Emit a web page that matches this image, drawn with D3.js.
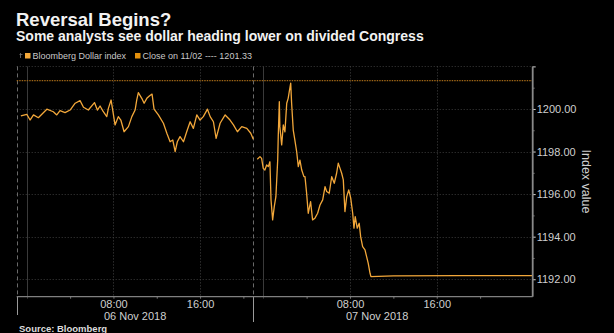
<!DOCTYPE html>
<html>
<head>
<meta charset="utf-8">
<script src="https://cdn.jsdelivr.net/npm/d3@7"></script>
<style>
  html, body { margin: 0; padding: 0; background: #000; }
  svg { display: block; }
  text { font-family: "Liberation Sans", Arial, sans-serif; }
</style>
</head>
<body>
<svg id="chart" width="614" height="333"></svg>
<script>
// ---------------- DATA ----------------
const titleText = "Reversal Begins?";
const subtitleText = "Some analysts see dollar heading lower on divided Congress";
const sourceText = "Source: Bloomberg";
const seriesName = "Bloomberg Dollar index";
const closeLabel = "Close on 11/02 ---- 1201.33";
const closeValue = 1201.33;

// Session 1 (06 Nov 2018)
const session1Times = [
  "2018-11-05 23:27","2018-11-06 00:00","2018-11-06 00:18","2018-11-06 00:37","2018-11-06 01:04",
  "2018-11-06 01:51","2018-11-06 02:27","2018-11-06 02:46","2018-11-06 03:04","2018-11-06 03:32",
  "2018-11-06 04:00","2018-11-06 04:28","2018-11-06 04:55","2018-11-06 05:14","2018-11-06 05:41",
  "2018-11-06 06:15","2018-11-06 06:31","2018-11-06 06:46","2018-11-06 07:04","2018-11-06 07:23",
  "2018-11-06 07:32","2018-11-06 07:47","2018-11-06 07:56","2018-11-06 08:09","2018-11-06 08:27",
  "2018-11-06 08:41","2018-11-06 08:59","2018-11-06 09:23","2018-11-06 09:42","2018-11-06 10:00",
  "2018-11-06 10:09","2018-11-06 10:18","2018-11-06 10:37","2018-11-06 10:50","2018-11-06 11:05",
  "2018-11-06 11:19","2018-11-06 11:34","2018-11-06 11:45","2018-11-06 12:09","2018-11-06 12:37",
  "2018-11-06 12:56","2018-11-06 13:14","2018-11-06 13:29","2018-11-06 13:42","2018-11-06 13:54",
  "2018-11-06 14:09","2018-11-06 14:28","2018-11-06 14:46","2018-11-06 15:05","2018-11-06 15:23",
  "2018-11-06 15:42","2018-11-06 16:00","2018-11-06 16:18","2018-11-06 16:41","2018-11-06 16:56",
  "2018-11-06 17:14","2018-11-06 17:29","2018-11-06 17:51","2018-11-06 18:19","2018-11-06 18:46",
  "2018-11-06 19:05","2018-11-06 19:27","2018-11-06 19:51","2018-11-06 20:19","2018-11-06 20:41",
  "2018-11-06 20:55"
];
const session1Values = [
  1199.67,1199.75,1199.48,1199.72,1199.59,
  1199.99,1199.87,1199.72,1199.92,1199.83,
  1199.95,1200.27,1200.39,1200.08,1199.95,
  1200.30,1199.95,1200.14,1199.87,1199.64,
  1200.03,1200.42,1199.95,1199.25,1199.64,
  1199.48,1198.93,1199.17,1199.64,1199.95,
  1200.42,1200.77,1200.50,1200.27,1200.50,
  1200.61,1200.70,1199.99,1199.72,1199.33,
  1198.86,1198.46,1198.54,1198.00,1198.46,
  1198.70,1198.46,1198.93,1199.40,1199.09,
  1199.72,1199.48,1199.64,1199.99,1199.64,
  1199.40,1198.62,1199.33,1199.72,1199.48,
  1199.25,1198.93,1199.17,1199.09,1198.86,
  1198.58
];

// Session 2 (07 Nov 2018)
const session2Times = [
  "2018-11-06 23:27","2018-11-06 23:42","2018-11-06 23:51","2018-11-07 00:00","2018-11-07 00:09",
  "2018-11-07 00:19","2018-11-07 00:28","2018-11-07 00:37","2018-11-07 00:43","2018-11-07 00:52",
  "2018-11-07 01:01","2018-11-07 01:10","2018-11-07 01:20","2018-11-07 01:23","2018-11-07 01:29",
  "2018-11-07 01:32","2018-11-07 01:42","2018-11-07 01:51","2018-11-07 02:00","2018-11-07 02:10",
  "2018-11-07 02:18","2018-11-07 02:24","2018-11-07 02:32","2018-11-07 02:37","2018-11-07 02:46",
  "2018-11-07 02:55","2018-11-07 03:05","2018-11-07 03:14","2018-11-07 03:23","2018-11-07 03:33",
  "2018-11-07 03:45","2018-11-07 03:51","2018-11-07 04:00","2018-11-07 04:09","2018-11-07 04:22",
  "2018-11-07 04:33","2018-11-07 04:46","2018-11-07 05:01","2018-11-07 05:14","2018-11-07 05:29",
  "2018-11-07 05:42","2018-11-07 05:51","2018-11-07 06:05","2018-11-07 06:19","2018-11-07 06:33",
  "2018-11-07 06:46","2018-11-07 06:55","2018-11-07 07:05","2018-11-07 07:14","2018-11-07 07:23",
  "2018-11-07 07:32","2018-11-07 07:42","2018-11-07 07:53","2018-11-07 08:04","2018-11-07 08:15",
  "2018-11-07 08:22","2018-11-07 08:29","2018-11-07 08:40","2018-11-07 08:51","2018-11-07 08:59",
  "2018-11-07 09:10","2018-11-07 09:23","2018-11-07 09:32","2018-11-07 09:41","2018-11-07 09:51",
  "2018-11-07 09:56","2018-11-07 12:00","2018-11-07 18:00","2018-11-08 00:50"
];
const session2Values = [
  1197.64,1197.76,1197.68,1197.21,1197.13,
  1197.37,1197.29,1197.52,1195.73,1194.79,
  1195.41,1195.88,1197.60,1198.70,1200.34,
  1199.17,1198.31,1199.25,1198.93,1200.27,
  1200.50,1200.81,1201.21,1200.27,1199.01,
  1198.54,1197.99,1197.29,1197.60,1197.13,
  1196.82,1196.82,1196.04,1195.10,1195.65,
  1194.79,1194.87,1195.10,1195.49,1195.73,
  1196.35,1196.12,1196.04,1196.82,1196.51,
  1196.98,1197.45,1197.21,1196.98,1196.67,
  1195.18,1195.88,1196.20,1195.81,1195.10,
  1194.40,1194.94,1194.40,1194.63,1194.00,
  1193.53,1193.38,1193.06,1192.75,1192.28,
  1192.12,1192.16,1192.17,1192.17
];

const yMajorTicks = [1192, 1194, 1196, 1198, 1200, 1202];
const yMinorTicks = [1193, 1195, 1197, 1199, 1201];
const xTickTimes = [
  "2018-11-06 04:00","2018-11-06 08:00","2018-11-06 12:00","2018-11-06 16:00","2018-11-06 20:00",
  "2018-11-07 04:00","2018-11-07 08:00","2018-11-07 12:00","2018-11-07 16:00","2018-11-07 20:00"
];
const xLabelTimes = ["2018-11-06 08:00","2018-11-06 16:00","2018-11-07 08:00","2018-11-07 16:00"];
const midnightTimes = ["2018-11-06 00:00","2018-11-07 00:00"];
const sessionBreakTimes = ["2018-11-05 23:04","2018-11-06 20:55"];
const dateLabels = ["06 Nov 2018","07 Nov 2018"];
const dateLabelAnchors = ["2018-11-06 10:00","2018-11-07 10:30"];
// x domain: two trading sessions, the gap between them is collapsed
const xDomainTimes = ["2018-11-05 23:04","2018-11-06 20:55","2018-11-06 23:05","2018-11-08 00:51"];
const yDomain = [1191.18, 1202];

// ---------------- DRAW ----------------
(function draw() {
const parse = d3.timeParse("%Y-%m-%d %H:%M");
const fmtHM = d3.timeFormat("%H:%M");
const fmtKey = d3.timeFormat("%Y-%m-%d %H:%M");

const pLeft = 16.7, pRight = 532.7, pTop = 66.4, pBottom = 296.7, breakX = 253.3;

const x = d3.scaleTime()
  .domain(xDomainTimes.map(parse))
  .range([pLeft, breakX, breakX, pRight]);
const y = d3.scaleLinear().domain(yDomain).range([pBottom, pTop]);

const svg = d3.select("#chart");
svg.append("rect").attr("width", 614).attr("height", 333).attr("fill", "#000");

// Titles
svg.append("text").attr("x", 16).attr("y", 26)
  .attr("fill", "#f2f2f2").attr("font-weight", "bold").attr("font-size", "18.5px")
  .text(titleText);
svg.append("text").attr("x", 16).attr("y", 41)
  .attr("fill", "#f2f2f2").attr("font-weight", "bold").attr("font-size", "14px")
  .text(subtitleText);

// Legend
const lg = svg.append("g");
lg.append("path").attr("d", "M20.5,53 L20.5,58 M19.5,54.5 L22.5,54.5")
  .attr("stroke", "#777").attr("stroke-width", 0.8).attr("fill", "none");
lg.append("rect").attr("x", 25).attr("y", 53).attr("width", 5.5).attr("height", 5.5).attr("fill", "#f5a93a");
lg.append("text").attr("x", 32.5).attr("y", 58.6).attr("fill", "#c8c8c8").attr("font-size", "9px").text(seriesName);
lg.append("rect").attr("x", 135).attr("y", 53).attr("width", 5.5).attr("height", 5.5).attr("fill", "#e3900c");
lg.append("text").attr("x", 142.5).attr("y", 58.6).attr("fill", "#c8c8c8").attr("font-size", "9px").text(closeLabel);

// Horizontal grid
svg.append("g").selectAll("line").data(yMajorTicks).join("line")
  .attr("x1", pLeft).attr("x2", pRight)
  .attr("y1", d => Math.round(y(d)) + 0.5).attr("y2", d => Math.round(y(d)) + 0.5)
  .attr("stroke", "#3c3c3c").attr("stroke-dasharray", "1,2");

// Vertical dotted grid at labelled hours
svg.append("g").selectAll("line").data(xLabelTimes.map(parse)).join("line")
  .attr("x1", d => Math.round(x(d)) + 0.5).attr("x2", d => Math.round(x(d)) + 0.5)
  .attr("y1", pTop).attr("y2", pBottom)
  .attr("stroke", "#444").attr("stroke-dasharray", "1,2");

// Midnight solid lines
svg.append("g").selectAll("line").data(midnightTimes.map(parse)).join("line")
  .attr("x1", d => Math.round(x(d)) + 0.5).attr("x2", d => Math.round(x(d)) + 0.5)
  .attr("y1", pTop).attr("y2", pBottom + 2)
  .attr("stroke", "#3a3a3a");

// Session breaks: dashed above axis, solid below
const breaks = sessionBreakTimes.map(parse);
svg.append("g").selectAll("line").data(breaks).join("line")
  .attr("x1", d => Math.round(x(d)) + 0.5).attr("x2", d => Math.round(x(d)) + 0.5)
  .attr("y1", pTop).attr("y2", pBottom)
  .attr("stroke", "#6a6a6a").attr("stroke-dasharray", "4,3");
svg.append("g").selectAll("line").data(breaks).join("line")
  .attr("x1", d => Math.round(x(d)) + 0.5).attr("x2", d => Math.round(x(d)) + 0.5)
  .attr("y1", pBottom).attr("y2", (d, i) => i === 0 ? 315 : 322)
  .attr("stroke", "#9a9a9a");

// Close reference line
svg.append("line")
  .attr("x1", pLeft).attr("x2", pRight)
  .attr("y1", y(closeValue)).attr("y2", y(closeValue))
  .attr("stroke", "#9c6416").attr("stroke-width", 1.4).attr("stroke-dasharray", "1.5,1");

// Series
const line = d3.line().x(d => x(d[0])).y(d => y(d[1]));
const s1 = session1Times.map((t, i) => [parse(t), session1Values[i]]);
const s2 = session2Times.map((t, i) => [parse(t), session2Values[i]]);
svg.append("g").selectAll("path").data([s1, s2]).join("path")
  .attr("d", line).attr("fill", "none")
  .attr("stroke", "#f2a73a").attr("stroke-width", 1.3).attr("stroke-linejoin", "round");

// X axis
const xAxis = d3.axisBottom(x)
  .tickValues(xTickTimes.map(parse))
  .tickSize(2).tickPadding(2)
  .tickFormat(d => xLabelTimes.includes(fmtKey(d)) ? fmtHM(d) : "");
const gx = svg.append("g").attr("transform", `translate(0,${pBottom})`).call(xAxis);
gx.select(".domain").remove();
gx.selectAll(".tick line").attr("stroke", "#777");
gx.selectAll(".tick text").attr("fill", "#cfcfcf").attr("font-size", "11px")
  .attr("font-family", "Liberation Sans, Arial, sans-serif");
svg.append("line").attr("x1", pLeft).attr("x2", pRight).attr("y1", pBottom).attr("y2", pBottom)
  .attr("stroke", "#808080").attr("stroke-width", 1.3);

// Date labels
svg.append("g").selectAll("text").data(dateLabels).join("text")
  .attr("x", (d, i) => x(parse(dateLabelAnchors[i])))
  .attr("y", 319.5).attr("text-anchor", "middle")
  .attr("fill", "#cfcfcf").attr("font-size", "11px").text(d => d);

// Y axis (right)
const yAxis = d3.axisRight(y).tickValues(yMajorTicks).tickSize(3).tickPadding(1)
  .tickFormat(d => d === 1202 ? "" : d3.format(".2f")(d));
const gy = svg.append("g").attr("transform", `translate(${pRight},0)`).call(yAxis);
gy.select(".domain").remove();
gy.selectAll(".tick line").attr("stroke", "#d0d0d0");
gy.selectAll(".tick text").attr("fill", "#cfcfcf").attr("font-size", "11px")
  .attr("font-family", "Liberation Sans, Arial, sans-serif");
const yMinor = d3.axisRight(y).tickValues(yMinorTicks).tickSize(2).tickFormat("");
const gym = svg.append("g").attr("transform", `translate(${pRight},0)`).call(yMinor);
gym.select(".domain").remove();
gym.selectAll(".tick line").attr("stroke", "#666");
svg.append("line").attr("x1", pRight).attr("x2", pRight).attr("y1", pTop).attr("y2", pBottom)
  .attr("stroke", "#8a8a8a").attr("stroke-width", 1.8);

// Axis title
svg.append("text").attr("transform", "translate(582,181.5) rotate(90)")
  .attr("text-anchor", "middle").attr("fill", "#cfcfcf").attr("font-size", "12.5px")
  .text("Index value");

// Source
svg.append("text").attr("x", 19).attr("y", 331.5)
  .attr("fill", "#dcdcdc").attr("font-weight", "bold").attr("font-size", "9.5px")
  .text(sourceText);
})();
</script>
</body>
</html>
